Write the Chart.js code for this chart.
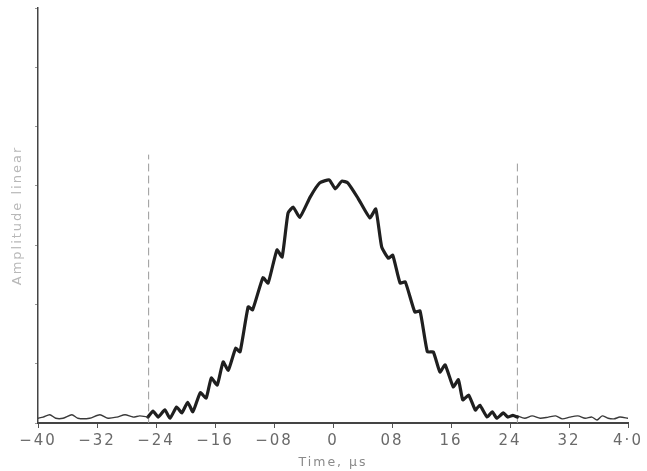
<!DOCTYPE html>
<html>
<head>
<meta charset="utf-8">
<script src="https://cdn.jsdelivr.net/npm/chart.js@4/dist/chart.umd.min.js"></script>
<style>
html,body{margin:0;padding:0;background:#fff;}
#wrap{width:647px;height:471px;position:relative;}
</style>
</head>
<body>
<div id="wrap"><canvas id="c" width="647" height="471"></canvas></div>
<script>
// Time axis (x) in units of 0.1 µs, amplitude (y) linear, arbitrary units
const xTickValues = [-40, -32, -24, -16, -8, 0, 8, 16, 24, 32, 40];
const xTickLabels = ['\u221240', '\u221232', '\u221224', '\u221216', '\u221208', '0', '08', '16', '24', '32', '4\u00b70'];

const leftTailX = [-40, -39.3, -38.4, -37.6, -36.6, -35.4, -34.6, -33.0, -31.6, -30.5, -29.3, -28.2, -27.1, -26.2, -25.1];
const leftTailY = [0.08, 0.10, 0.14, 0.08, 0.08, 0.14, 0.08, 0.08, 0.14, 0.08, 0.10, 0.14, 0.10, 0.12, 0.10];

const pulseX = [-25.1, -24.4, -23.7, -22.8, -22.1, -21.2, -20.5, -19.7, -19.0, -18.0, -17.2, -16.5, -15.7, -14.9, -14.2, -13.2, -12.6, -11.5, -10.9, -9.5, -8.8, -7.6, -6.9, -6.1, -5.4, -4.5, -3.1, -1.8, -0.5, 0.3, 1.2, 2.0, 3.4, 5.0, 5.8, 6.6, 7.5, 8.1, 9.1, 9.8, 11.1, 11.8, 12.8, 13.6, 14.5, 15.2, 16.3, 17.0, 17.6, 18.4, 19.3, 19.9, 20.9, 21.6, 22.2, 23.1, 23.7, 24.4, 25.0];
const pulseY = [0.10, 0.20, 0.10, 0.22, 0.08, 0.27, 0.17, 0.35, 0.19, 0.51, 0.42, 0.76, 0.64, 1.03, 0.89, 1.26, 1.20, 1.96, 1.91, 2.45, 2.36, 2.92, 2.80, 3.54, 3.64, 3.47, 3.81, 4.05, 4.10, 3.95, 4.08, 4.05, 3.79, 3.46, 3.61, 2.97, 2.78, 2.83, 2.36, 2.38, 1.87, 1.89, 1.20, 1.20, 0.86, 0.98, 0.61, 0.73, 0.39, 0.47, 0.22, 0.30, 0.10, 0.19, 0.08, 0.17, 0.10, 0.13, 0.10];

const rightTailX = [25.0, 26.0, 27.0, 28.1, 29.2, 30.2, 31.1, 32.1, 33.2, 34.2, 35.1, 35.8, 36.5, 37.3, 38.1, 38.9, 40];
const rightTailY = [0.12, 0.08, 0.12, 0.08, 0.10, 0.12, 0.07, 0.10, 0.12, 0.08, 0.10, 0.05, 0.12, 0.08, 0.07, 0.10, 0.08];

const markerX = [-25, 25];
const markerTop = [4.52, 4.43];

function pts(xs, ys) { return xs.map((x, i) => ({x: x, y: ys[i]})); }

const datasets = [
  {data: pts(leftTailX, leftTailY), borderColor: '#3a3a3a', borderWidth: 1.4, tension: 0.25},
  {data: pts(pulseX, pulseY), borderColor: '#1f1f1f', borderWidth: 3.2, tension: 0.15},
  {data: pts(rightTailX, rightTailY), borderColor: '#3a3a3a', borderWidth: 1.4, tension: 0.25},
  {data: [{x: markerX[0], y: 0}, {x: markerX[0], y: markerTop[0]}], borderColor: '#9a9a9a', borderWidth: 1, borderDash: [7, 5]},
  {data: [{x: markerX[1], y: 0}, {x: markerX[1], y: markerTop[1]}], borderColor: '#9a9a9a', borderWidth: 1, borderDash: [7, 5]}
];
datasets.forEach(d => { d.pointRadius = 0; d.fill = false; d.borderJoinStyle = 'round'; d.borderCapStyle = 'round'; });

const spacing = {
  id: 'spacing',
  beforeDraw: (chart) => { chart.ctx.letterSpacing = '2px'; },
  afterDraw: (chart) => { chart.ctx.letterSpacing = '0px'; }
};

new Chart(document.getElementById('c'), {
  type: 'line',
  data: {datasets: datasets},
  plugins: [spacing],
  options: {
    responsive: false,
    animation: false,
    events: [],
    layout: {padding: {top: 8, right: 19, left: 0, bottom: 0}},
    plugins: {legend: {display: false}, tooltip: {enabled: false}},
    scales: {
      x: {
        type: 'linear',
        min: -40, max: 40,
        afterBuildTicks: s => { s.ticks = xTickValues.map(v => ({value: v})); },
        afterFit: s => { s.height = 48; },
        grid: {drawOnChartArea: false, drawTicks: true, tickLength: 5, color: '#555', lineWidth: 1},
        border: {display: true, color: '#444', width: 2},
        ticks: {
          color: '#6a6a6a', padding: 4, maxRotation: 0, autoSkip: false,
          font: {family: 'DejaVu Sans', size: 15},
          callback: (v) => { const i = xTickValues.indexOf(v); return i >= 0 ? xTickLabels[i] : ''; }
        },
        title: {display: true, text: 'Time, \u00b5s', color: '#8a8a8a', font: {family: 'DejaVu Sans', size: 12.5}, padding: {top: 2, bottom: 1}}
      },
      y: {
        type: 'linear',
        min: 0, max: 7,
        afterFit: s => { s.width = 38; },
        grid: {drawOnChartArea: false, drawTicks: true, tickLength: 3, color: '#999', lineWidth: 1},
        border: {display: true, color: '#444', width: 1.5},
        ticks: {display: false, stepSize: 1},
        title: {display: true, text: 'Amplitude linear', color: '#b8b8b8', font: {family: 'DejaVu Sans', size: 13}, padding: {top: 10, bottom: 10}}
      }
    }
  }
});
</script>
</body>
</html>
